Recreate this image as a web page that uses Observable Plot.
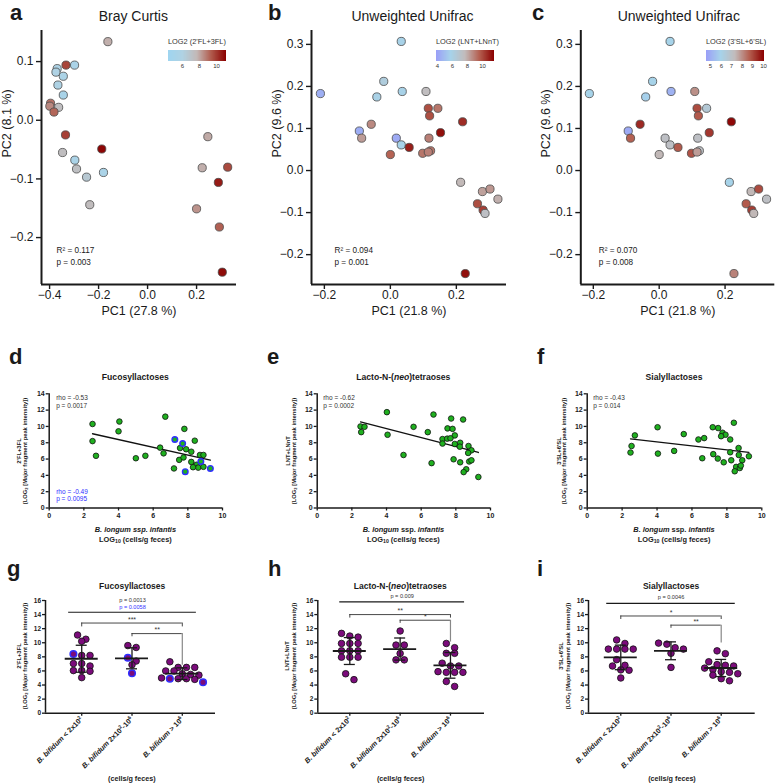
<!DOCTYPE html>
<html><head><meta charset="utf-8">
<script src="https://cdn.jsdelivr.net/npm/d3@7"></script>
<script src="https://cdn.jsdelivr.net/npm/@observablehq/plot@0.6"></script>
<style>
html,body{margin:0;padding:0;background:#fff;}
#fig{position:relative;width:776px;height:784px;overflow:hidden;font-family:"Liberation Sans",Arial,Helvetica,sans-serif;color:#1a1a1a;background:#fff;}
.abs{position:absolute;}
.abs svg{overflow:visible;display:block;}
.txt{position:absolute;white-space:nowrap;line-height:1;}
.legwrap svg{overflow:visible;}
.legwrap svg > text{font-weight:normal;font-size:7.4px;}
.legwrap .tick text{font-size:6px;}
.legwrap .tick line{display:none;}
sub{font-size:70%;vertical-align:baseline;position:relative;top:0.3em;line-height:0;}
</style></head><body><div id="fig"></div>
<script>
// ================= DATA =================
// Panel a: Bray Curtis PCoA, colour = LOG2(2'FL+3FL)
const aPC1 = [-0.162,-0.333,-0.298,-0.369,-0.374,-0.344,-0.366,-0.344,-0.396,-0.399,-0.363,-0.382,-0.335,-0.187,-0.347,-0.297,-0.290,-0.249,-0.180,-0.236,0.246,0.223,0.327,0.289,0.200,0.293,0.305];
const aPC2 = [0.134,0.094,0.094,0.088,0.082,0.075,0.060,0.043,0.029,0.024,0.022,0.014,-0.025,-0.049,-0.055,-0.068,-0.083,-0.097,-0.089,-0.144,-0.028,-0.081,-0.080,-0.106,-0.151,-0.182,-0.259];
const aFL  = [7.9,9.8,5.6,5.8,6.0,5.7,5.9,5.4,9.0,8.6,7.4,9.2,9.9,11.0,7.4,5.6,7.3,6.7,5.6,7.5,8.0,7.9,9.7,10.6,8.4,9.3,10.9];
// Panels b, c: Unweighted Unifrac PCoA (same ordination)
const uPC1 = [0.033,-0.212,-0.020,-0.041,0.036,0.108,0.115,0.144,0.119,0.219,0.152,-0.058,-0.094,-0.087,0.018,0.033,0.057,0.117,0.000,0.098,0.122,0.115,0.213,0.279,0.302,0.326,0.264,0.281,0.287,0.227];
const uPC2 = [0.307,0.183,0.212,0.175,0.188,0.188,0.148,0.148,0.130,0.116,0.090,0.110,0.094,0.077,0.077,0.061,0.055,0.077,0.038,0.041,0.047,0.044,-0.028,-0.050,-0.044,-0.068,-0.079,-0.094,-0.102,-0.245];
const bLNT = [5.9,4.5,6.4,6.0,5.9,7.6,10.0,9.2,10.0,10.7,11.3,8.8,4.4,8.4,4.3,5.9,11.0,9.0,9.6,9.2,9.2,9.0,7.8,8.3,8.5,8.0,10.0,10.3,7.4,11.3];
const cSL  = [6.0,6.0,6.0,5.9,5.1,8.0,9.0,6.6,8.8,10.0,9.3,9.5,4.9,8.7,7.1,7.1,8.8,7.1,7.4,8.9,7.1,7.8,6.0,7.4,9.0,7.1,8.8,9.2,7.4,8.2];
const pcoaStats = ["R\u00b2 = 0.117\np = 0.003", "R\u00b2 = 0.094\np = 0.001", "R\u00b2 = 0.070\np = 0.008"];

// Panels d-f: B. longum ssp. infantis LOG10 vs HMO LOG2
const dInf  = [2.5,2.5,2.7,4.05,4.0,5.0,5.55,6.7,6.4,6.6,7.8,8.4,7.55,7.9,8.2,7.5,7.75,8.7,8.9,8.2,7.2,8.5,8.6,8.9,8.3];
const dFL   = [10.3,8.2,6.4,10.6,9.4,6.1,6.4,11.2,7.4,6.7,9.7,8.25,7.35,7.2,6.9,5.9,6.2,6.5,6.5,5.65,4.85,5.3,4.95,5.05,5.0];
const dBlueInf = [7.25,7.7,8.75,7.85,9.3];
const dBlueFL  = [8.4,7.9,5.7,4.45,4.85];
const eInf  = [2.5,2.73,2.54,4.02,4.06,4.98,5.56,6.71,6.38,6.6,7.73,8.42,7.52,7.81,7.94,7.23,7.5,7.69,7.23,7.94,8.25,8.23,8.73,8.9,8.71,7.87,8.25,8.77,8.9,8.6,8.45,9.3];
const eLNT  = [10.0,9.95,9.3,11.75,8.98,6.5,9.95,11.46,9.3,5.5,10.97,10.85,9.76,9.7,8.9,8.45,8.5,8.55,7.9,7.85,8.0,7.52,7.6,7.07,6.75,5.97,5.6,5.7,5.85,4.75,4.4,3.8];
const fInf  = [2.73,2.54,2.48,4.03,4.05,4.98,5.53,6.37,6.7,6.59,7.19,7.5,8.4,7.75,7.92,7.67,8.19,7.22,7.48,7.82,8.25,8.19,8.67,8.68,8.88,9.26,8.53,8.74,8.45,8.8];
const fSL   = [8.9,7.6,6.8,9.9,6.67,7.0,9.06,8.4,8.57,6.1,9.9,9.8,10.45,9.23,8.98,8.8,8.4,6.6,6.06,5.6,5.85,6.83,7.35,6.5,5.85,6.34,5.04,4.9,4.5,5.2];
const corrStats = ["rho = -0.53\np = 0.0017", "rho = -0.62\np = 0.0002", "rho = -0.43\np = 0.014"];
const corrBlueStat = "rho = -0.49\np = 0.0095";

// Panels g-i: B. bifidum groups
const bifidumLabels = ["B. bifidum < 2x10^2", "B. bifidum 2x10^2-10^6", "B. bifidum > 10^6"];
const gLow = [11.1,10.5,10.2,8.2,8.2,8.4,6.7,7.05,7.05,6.05,6.05,5.95,5.05];
const gMid = [9.6,9.33,7.4,7.87,6.87,5.68];
const gHigh = [7.3,6.5,6.5,6.5,6.0,6.0,5.6,5.4,5.0,4.9,4.9,4.8,4.9,4.4,5.5];
const gBlueIdx = [[5],[3,5],[9,13]];
const hLow = [10.8,10.95,11.33,9.9,9.9,9.9,8.86,8.86,8.86,7.95,7.95,7.95,5.6,4.76];
const hMid = [11.67,9.67,9.67,8.48,7.57,7.57];
const hHigh = [9.9,9.3,8.5,8.5,7.1,6.7,6.7,5.9,5.8,5.8,5.8,4.5,3.8];
const iLow = [10.4,9.9,9.1,9.1,9.1,9.1,7.6,6.7,6.8,6.1,6.15,5.0];
const iMid = [9.3,9.8,9.95,8.5,9.1,6.5];
const iHigh = [8.85,8.45,7.3,6.9,6.8,6.7,6.4,6.2,5.9,5.8,5.6,5.4,4.9,4.6];
// significance brackets (group a to group b at level y; arm ends)
const gBrackets = [{a:0,b:2,y:12.8,aEnd:12.25,bEnd:12.25,label:"***"},{a:1,b:2,y:11.3,aEnd:10.85,bEnd:6.8,label:"**"}];
const hBrackets = [{a:0,b:2,y:14.0,aEnd:13.5,bEnd:13.5,label:"**"},{a:1,b:2,y:13.2,aEnd:12.75,bEnd:10.1,label:"*"}];
const iBrackets = [{a:0,b:2,y:13.8,aEnd:13.3,bEnd:13.3,label:"*"},{a:1,b:2,y:12.5,aEnd:12.05,bEnd:9.95,label:"**"}];
const gOverall = {a:-0.26,b:2.28,y:14.33}, hOverall = {a:-0.2,b:2.28,y:15.8}, iOverall = {a:-0.28,b:2.28,y:15.6};
const gP = [{t:"p = 0.0013",c:"#333",dy:-12.3},{t:"p = 0.0058",c:"#3333ff",dy:-5.3}];
const hP = [{t:"p = 0.009",c:"#333",dy:-5.3}];
const iP = [{t:"p = 0.0046",c:"#333",dy:-6}];

// ================= HELPERS =================
const FONT = "'Liberation Sans', Arial, Helvetica, sans-serif";
const baseStyle = {fontFamily: FONT, background: "transparent", overflow: "visible", color: "#1a1a1a"};
const GREEN = "#1fb01f", BLUE = "#2e2eff", PURPLE = "#7b0b7b";
const fig = document.getElementById("fig");
const fmt1 = d3.format(".1f");

function place(el, left, top, cls) {
  const d = document.createElement("div");
  d.className = "abs" + (cls ? " " + cls : "");
  d.style.left = left + "px"; d.style.top = top + "px";
  d.appendChild(el); fig.appendChild(d); return d;
}
function text(html, x, baseline, o = {}) {
  const size = o.size || 12;
  const d = document.createElement("div");
  d.className = "txt"; d.innerHTML = html;
  d.style.fontSize = size + "px";
  if (o.weight) d.style.fontWeight = o.weight;
  if (o.color) d.style.color = o.color;
  d.style.top = (baseline - 0.8465 * size) + "px";
  d.style.left = x + "px";
  if (o.anchor === "middle") d.style.transform = "translateX(-50%)";
  fig.appendChild(d);
}
function vtext(html, cx, cy, size) {
  const d = document.createElement("div");
  d.className = "txt"; d.innerHTML = html;
  d.style.fontSize = size + "px"; d.style.fontWeight = "bold";
  d.style.left = cx + "px"; d.style.top = cy + "px";
  d.style.transform = "translate(-50%,-50%) rotate(-90deg)";
  fig.appendChild(d);
}

// ---------- Top row: PCoA ----------
const palette = ["#9a9ff7","#a7d3ea","#c2bbbb","#b45f50","#8b0000"];
const paletteA = ["#9fd5f0","#b0d2e3","#c3b8b6","#b0594b","#8b0000"];
function pcoaPlot(o) {
  const idx = d3.range(o.pc1.length);
  return Plot.plot({
    width: 260, height: 320, marginLeft: o.ml, marginRight: o.mr, marginTop: 30, marginBottom: 36,
    x: {domain: o.xd}, y: {domain: o.yd},
    color: {type: "linear", domain: o.cd, interpolate: o.interp},
    style: {...baseStyle, fontSize: "12px"},
    marks: [
      Plot.axisX({ticks: o.xt, tickFormat: fmt1, tickSize: 5, tickPadding: 1, strokeWidth: 1.4, fontSize: 12, label: null}),
      Plot.axisY({ticks: o.yt, tickFormat: fmt1, tickSize: 5, tickPadding: 3, strokeWidth: 1.4, fontSize: 12, label: null}),
      Plot.ruleX([o.xd[0]], {strokeWidth: 2}),
      Plot.ruleY([o.yd[0]], {strokeWidth: 2}),
      Plot.dot(idx, {x: i => o.pc1[i], y: i => o.pc2[i], fill: i => o.vals[i], r: 4.1, stroke: "#4a4a4a", strokeWidth: 0.8}),
      Plot.text([o.stat], {frameAnchor: "bottom-left", dx: o.sdx, dy: -29, textAnchor: "start", lineAnchor: "middle", lineHeight: 1.4, fontSize: 8.2}),
      Plot.text([o.xl], {frameAnchor: "bottom", dy: 26.5, lineAnchor: "middle", fontSize: 12.5}),
      Plot.text([o.yl], {frameAnchor: "left", dx: -34.5, rotate: -90, lineAnchor: "middle", fontSize: 12.5})
    ]
  });
}
function ramp(o) {
  return Plot.legend({
    color: {type: "linear", domain: o.cd, interpolate: o.interp},
    label: o.label, ticks: o.ticks, tickSize: 0, tickFormat: d => String(d),
    width: 64, height: 33, marginTop: 12, marginBottom: 10, marginLeft: 0, marginRight: 6,
    style: {fontFamily: FONT, fontSize: "6px", background: "transparent", overflow: "visible", color: "#333"}
  });
}

// ---------- Middle row: correlations ----------
function corrPlot(o) {
  const allX = o.x.concat(o.bx || []), allY = o.y.concat(o.by || []);
  const marks = [
    Plot.axisX({ticks: d3.range(0, 11, 2), tickSize: 3, tickPadding: 2, strokeWidth: 1.3, fontSize: 7, fontWeight: "bold", label: null}),
    Plot.axisY({ticks: d3.range(0, 15, 2), tickSize: 3, tickPadding: 1.5, strokeWidth: 1.3, fontSize: 7, fontWeight: "bold", label: null}),
    Plot.ruleX([0], {strokeWidth: 1.5}),
    Plot.ruleY([0], {strokeWidth: 1.5}),
    Plot.linearRegressionY(d3.range(allX.length), {x: i => allX[i], y: i => allY[i], ci: 0, stroke: "#111", strokeWidth: 1.3}),
    Plot.dot(d3.range(o.x.length), {x: i => o.x[i], y: i => o.y[i], r: 2.8, fill: GREEN, stroke: "#111", strokeWidth: 0.8}),
    Plot.text([o.stat], {frameAnchor: "top-left", dx: o.sdx, dy: 7.7, textAnchor: "start", lineAnchor: "middle", lineHeight: 1.15, fontSize: 6.5, fill: "#333"})
  ];
  if (o.bx) {
    marks.push(Plot.dot(d3.range(o.bx.length), {x: i => o.bx[i], y: i => o.by[i], r: 2.8, fill: GREEN, stroke: BLUE, strokeWidth: 1.4}));
    marks.push(Plot.text([o.blueStat], {frameAnchor: "bottom-left", dx: o.sdx, dy: -12.8, textAnchor: "start", lineAnchor: "middle", lineHeight: 1.15, fontSize: 6.5, fill: BLUE}));
  }
  return Plot.plot({
    width: 260, height: 168, marginLeft: o.ml, marginRight: o.mr, marginTop: 13.3, marginBottom: 40.5,
    x: {domain: [0, 10]}, y: {domain: [0, 14]},
    style: {...baseStyle, fontSize: "7px"}, marks
  });
}

// ---------- Bottom row: group dot plots ----------
// scatter-dot layout: values within one dot height share a row, spread symmetrically
function rowOffsets(vals, binUnits, spacingPx, pxX) {
  const order = d3.range(vals.length).sort((a, b) => d3.descending(vals[a], vals[b]));
  const rows = [];
  for (const i of order) {
    const row = rows[rows.length - 1];
    if (row && vals[row[0]] - vals[i] < binUnits) row.push(i); else rows.push([i]);
  }
  const off = new Array(vals.length).fill(0);
  for (const row of rows) row.forEach((i, j) => { off[i] = (j - (row.length - 1) / 2) * spacingPx / pxX; });
  return off;
}
function italicizeTicks(svg) {
  const ns = "http://www.w3.org/2000/svg";
  svg.querySelectorAll('[aria-label="x-axis tick label"] text').forEach(t => {
    const s = t.textContent;
    const m = s.match(/^(B\. bifidum)(.*)$/);
    if (!m) return;
    t.textContent = "";
    const it = document.createElementNS(ns, "tspan");
    it.setAttribute("font-style", "italic"); it.textContent = m[1]; t.appendChild(it);
    let raised = false;
    for (const p of m[2].split(/(\^\d)/)) {
      if (!p) continue;
      const ts = document.createElementNS(ns, "tspan");
      if (p[0] === "^") {
        ts.textContent = p.slice(1); ts.setAttribute("font-size", "5px"); ts.setAttribute("dy", "-3"); raised = true;
      } else {
        ts.textContent = p; if (raised) { ts.setAttribute("dy", "3"); raised = false; }
      }
      t.appendChild(ts);
    }
  });
}
function dotPlot(o) {
  const pts = [];
  o.groups.forEach((vals, g) => {
    const off = rowOffsets(vals, 0.85, 8.3, 50.3);
    vals.forEach((v, j) => pts.push({g, v, x: g + off[j], blue: o.blue[g].includes(j)}));
  });
  const stats = o.groups.map((vals, g) => {
    const m = d3.mean(vals), s = d3.deviation(vals);
    return {g, mean: m, lo: m - s, hi: m + s};
  });
  const marks = [
    Plot.axisY({ticks: d3.range(0, 17, 2), tickSize: 3, tickPadding: 1.5, strokeWidth: 1.3, fontSize: 6.5, fontWeight: "bold", label: null}),
    Plot.axisX({ticks: [0, 1, 2], tickFormat: i => bifidumLabels[i], tickRotate: -45, tickSize: 3, tickPadding: 2, strokeWidth: 1.3, fontSize: 7.2, fontWeight: "bold", label: null}),
    Plot.ruleX([o.xd[0]], {strokeWidth: 1.5}),
    Plot.ruleY([0], {strokeWidth: 1.5}),
    Plot.dot(pts.filter(d => !d.blue), {x: "x", y: "v", r: 3.3, fill: PURPLE, stroke: "#111", strokeWidth: 0.8}),
    Plot.dot(pts.filter(d => d.blue), {x: "x", y: "v", r: 3.3, fill: PURPLE, stroke: BLUE, strokeWidth: 1.5}),
    Plot.ruleX(stats, {x: "g", y1: "lo", y2: "hi", strokeWidth: 1.3}),
    Plot.ruleY(stats, {x1: "g", x2: "g", y: "hi", insetLeft: -5.5, insetRight: -5.5, strokeWidth: 1.3}),
    Plot.ruleY(stats, {x1: "g", x2: "g", y: "lo", insetLeft: -5.5, insetRight: -5.5, strokeWidth: 1.3}),
    Plot.ruleY(stats, {x1: "g", x2: "g", y: "mean", insetLeft: -16.5, insetRight: -16.5, strokeWidth: 1.8}),
    Plot.ruleY([o.overall], {x1: "a", x2: "b", y: "y", strokeWidth: 1.2}),
    Plot.ruleY(o.brackets, {x1: "a", x2: "b", y: "y", stroke: "#333", strokeWidth: 0.9}),
    Plot.ruleX(o.brackets, {x: "a", y1: "y", y2: "aEnd", stroke: "#333", strokeWidth: 0.9}),
    Plot.ruleX(o.brackets.filter(d => d.y - d.bEnd < 1), {x: "b", y1: "y", y2: "bEnd", stroke: "#333", strokeWidth: 0.9}),
    Plot.ruleX(o.brackets.filter(d => d.y - d.bEnd >= 1), {x: "b", y1: "y", y2: "bEnd", stroke: "#888", strokeWidth: 1.2}),
    Plot.text(o.brackets, {x: d => (d.a + d.b) / 2, y: "y", text: "label", dy: -1.2, lineAnchor: "bottom", fontSize: 7, fill: "#333"})
  ];
  o.pTexts.forEach(p => marks.push(Plot.text([p.t], {x: [(o.overall.a + o.overall.b) / 2], y: [o.overall.y], dy: p.dy, lineAnchor: "middle", fontSize: 5.6, fill: p.c})));
  const svg = Plot.plot({
    width: 260, height: 214.7, marginLeft: o.ml, marginRight: o.mr, marginTop: 40, marginBottom: 62,
    x: {domain: o.xd}, y: {domain: [0, 16]},
    style: {...baseStyle, fontSize: "7px"}, marks
  });
  italicizeTicks(svg);
  return svg;
}

// ================= BUILD =================
// Top row
const interpA = d3.piecewise(d3.interpolateRgb, paletteA);
const interpU = d3.piecewise(d3.interpolateRgb, palette);
place(pcoaPlot({pc1: aPC1, pc2: aPC2, vals: aFL, xd: [-0.433, 0.363], yd: [-0.28, 0.153], xt: [-0.4,-0.2,0,0.2], yt: [-0.2,-0.1,0,0.1],
  cd: [4.4, 11.1], interp: interpA, ml: 41, mr: 24, stat: pcoaStats[0], sdx: 15, xl: "PC1 (27.8 %)", yl: "PC2 (8.1 %)"}), 0, 0);
place(pcoaPlot({pc1: uPC1, pc2: uPC2, vals: bLNT, xd: [-0.239, 0.352], yd: [-0.271, 0.333], xt: [-0.2,0,0.2], yt: [-0.2,-0.1,0,0.1,0.2,0.3],
  cd: [3.9, 11.6], interp: interpU, ml: 51, mr: 14, stat: pcoaStats[1], sdx: 23, xl: "PC1 (21.8 %)", yl: "PC2 (9.6 %)"}), 260, 0);
place(pcoaPlot({pc1: uPC1, pc2: uPC2, vals: cSL, xd: [-0.238, 0.351], yd: [-0.271, 0.333], xt: [-0.2,0,0.2], yt: [-0.2,-0.1,0,0.1,0.2,0.3],
  cd: [4.6, 10.1], interp: interpU, ml: 64.3, mr: 1.7, stat: pcoaStats[2], sdx: 18, xl: "PC1 (21.8 %)", yl: "PC2 (9.6 %)"}), 516, 0);
try {
  place(ramp({cd: [4.4, 11.1], interp: interpA, label: "LOG2 (2'FL+3FL)", ticks: [6, 8, 10]}), 168, 38, "legwrap");
  place(ramp({cd: [3.9, 11.6], interp: interpU, label: "LOG2 (LNT+LNnT)", ticks: [4, 6, 8, 10]}), 436, 38, "legwrap");
  place(ramp({cd: [4.6, 10.1], interp: interpU, label: "LOG2 (3'SL+6'SL)", ticks: [5, 6, 7, 8, 9, 10]}), 706, 38, "legwrap");
} catch (e) { console.error(e); }

// Middle row
place(corrPlot({x: dInf, y: dFL, bx: dBlueInf, by: dBlueFL, ml: 48.7, mr: 38, stat: corrStats[0], sdx: 7, blueStat: corrBlueStat}), 0, 380);
place(corrPlot({x: eInf, y: eLNT, ml: 56.7, mr: 30, stat: corrStats[1], sdx: 6}), 260, 380);
place(corrPlot({x: fInf, y: fSL, ml: 70.7, mr: 14.7, stat: corrStats[2], sdx: 6}), 516, 380);

// Bottom row
place(dotPlot({groups: [gLow, gMid, gHigh], blue: gBlueIdx, xd: [-0.72, 2.66], ml: 45, mr: 45, brackets: gBrackets, overall: gOverall, pTexts: gP}), 0, 560);
place(dotPlot({groups: [hLow, hMid, hHigh], blue: [[],[],[]], xd: [-0.636, 2.676], ml: 57.3, mr: 36, brackets: hBrackets, overall: hOverall, pTexts: hP}), 260, 560);
place(dotPlot({groups: [iLow, iMid, iHigh], blue: [[],[],[]], xd: [-0.643, 2.677], ml: 72, mr: 21.3, brackets: iBrackets, overall: iOverall, pTexts: iP}), 516, 560);

// ================= TEXT =================
[["a",10,21],["b",268,21],["c",532,21],["d",9,365],["e",267,365],["f",537,365],["g",7,577],["h",268,577],["i",537,577]]
  .forEach(([t, x, y]) => text(t, x, y, {size: 22, weight: "bold"}));
text("Bray Curtis", 133.3, 20.7, {size: 14, anchor: "middle"});
text("Unweighted Unifrac", 412.5, 20.7, {size: 14, anchor: "middle"});
text("Unweighted Unifrac", 678.8, 20.7, {size: 14, anchor: "middle"});

text("Fucosyllactoses", 135.3, 380, {size: 8.6, weight: "bold", anchor: "middle"});
text("Lacto-N-(<i>neo</i>)tetraoses", 403.3, 380, {size: 8.6, weight: "bold", anchor: "middle"});
text("Sialyllactoses", 674, 380, {size: 8.6, weight: "bold", anchor: "middle"});
text("Fucosyllactoses", 132.2, 589, {size: 8.5, weight: "bold", anchor: "middle"});
text("Lacto-N-(<i>neo</i>)tetraoses", 400.3, 589, {size: 8.5, weight: "bold", anchor: "middle"});
text("Sialyllactoses", 671, 589, {size: 8.5, weight: "bold", anchor: "middle"});

const xLab1 = ["<i>B. longum ssp. infantis</i>", "<i>B. longum</i> ssp. <i>infantis</i>", "<i>B. longum</i> ssp. <i>infantis</i>"];
[135.4, 403.4, 674].forEach((cx, k) => {
  text(xLab1[k], cx, 532, {size: 7.4, weight: "bold", anchor: "middle"});
  text("LOG<sub>10</sub> (cells/g feces)", cx, 542, {size: 7.4, weight: "bold", anchor: "middle"});
});
[131.8, 400.7, 672].forEach(cx => text("(cells/g feces)", cx, 781, {size: 7.2, weight: "bold", anchor: "middle"}));

const yLab2 = "(LOG<sub>2</sub> [Major fragment peak intensity])";
[["2'FL+3FL", 20, 26.3], ["LNT+LNnT", 288.7, 294.5], ["3'SL+6'SL", 559.7, 565.2]].forEach(([t, x1, x2]) => {
  vtext(t, x1, 450.5, 5.8); vtext(yLab2, x2, 450.5, 5.8);
});
[["2'FL+3FL", 20, 26.3], ["LNT+LNnT", 288.3, 294.5], ["3'SL+6'SL", 561.8, 568.5]].forEach(([t, x1, x2]) => {
  vtext(t, x1, 656.4, 5.8); vtext(yLab2, x2, 656.4, 5.8);
});
</script></body></html>
